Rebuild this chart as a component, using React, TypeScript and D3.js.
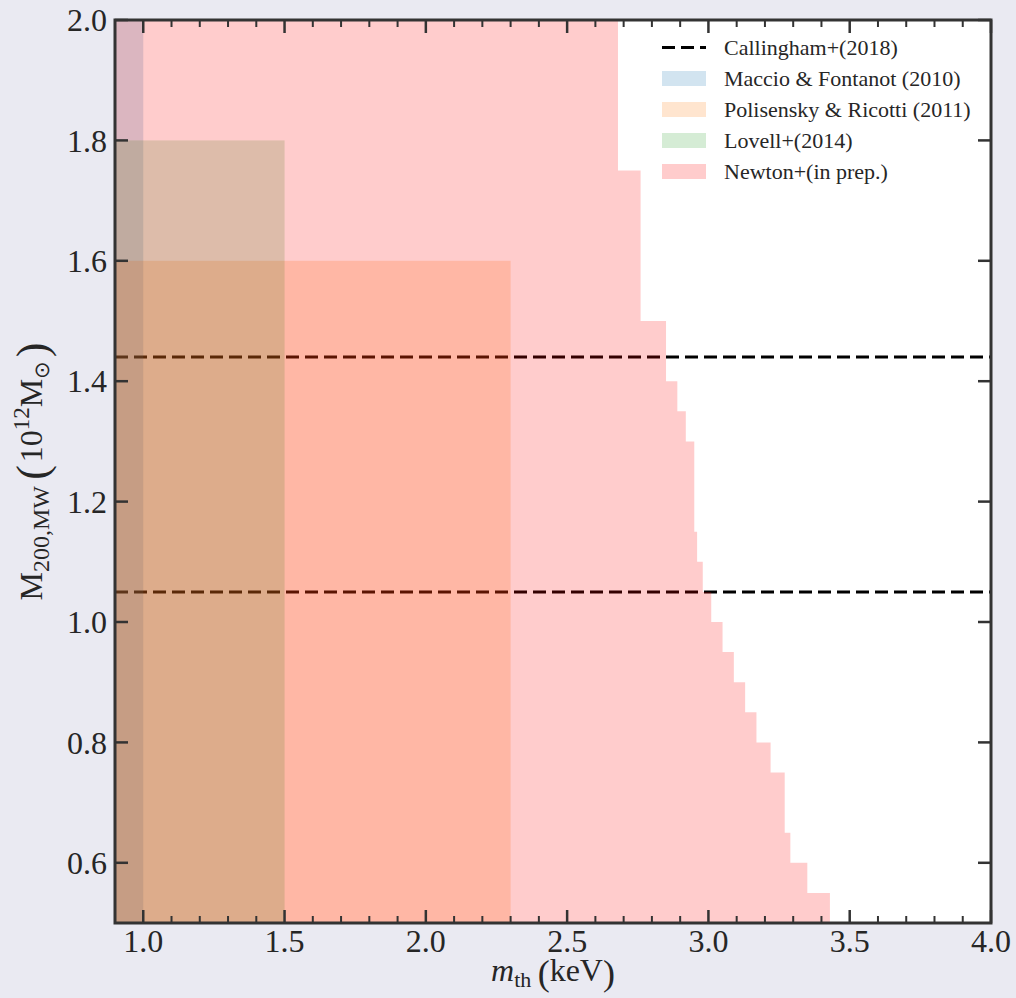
import React, { useEffect, useRef } from 'react';
import * as d3 from 'd3';

const width = 1016;
const height = 998;

const xMajorTicks = [1.0, 1.5, 2.0, 2.5, 3.0, 3.5, 4.0];
const xTickLabels = ['1.0', '1.5', '2.0', '2.5', '3.0', '3.5', '4.0'];
const yMajorTicks = [0.6, 0.8, 1.0, 1.2, 1.4, 1.6, 1.8, 2.0];
const yTickLabels = ['0.6', '0.8', '1.0', '1.2', '1.4', '1.6', '1.8', '2.0'];

// Callingham+(2018) MW halo mass range
const callinghamMass = [1.05, 1.44];

// older constraints: excluded below mthMax, for halo masses up to massMax
const regionLabels = ['Maccio & Fontanot (2010)', 'Polisensky & Ricotti (2011)', 'Lovell+(2014)'];
const regionMthMax = [1.0, 2.3, 1.5];
const regionMassMax = [2.0, 1.6, 1.8];
const regionColors = ['#1f77b4', '#ff7f0e', '#2ca02c'];

// Newton+(in prep.) stepped limit, per halo mass bin
const newtonMassEdges = [0.5, 0.55, 0.6, 0.65, 0.75, 0.8, 0.85, 0.9, 0.95, 1.0, 1.05, 1.1, 1.15, 1.3, 1.35, 1.4, 1.5, 1.75, 2.0];
const newtonMth = [3.43, 3.35, 3.29, 3.27, 3.22, 3.17, 3.13, 3.09, 3.05, 3.01, 2.98, 2.96, 2.95, 2.92, 2.89, 2.85, 2.76, 2.68];

const legendLabels = ['Callingham+(2018)', ...regionLabels, 'Newton+(in prep.)'];

const FONT = "'Liberation Serif', 'Times New Roman', serif";
const INK = '#262626';

// append pieces of "math" text, each with its own baseline offset
const mathText = (text, parts) => {
  let cur = 0;
  parts.forEach(p => {
    const off = p.off || 0;
    const t = text.append('tspan')
      .attr('font-size', p.size)
      .attr('dy', off - cur)
      .text(p.t);
    if (p.italic) t.attr('font-style', 'italic');
    cur = off;
  });
};

const App = () => {
  const svgRef = useRef(null);

  useEffect(() => {
    const svg = d3.select(svgRef.current);
    svg.selectAll('*').remove();

    const margin = { top: 20, right: 25, bottom: 75, left: 115 };
    const x = d3.scaleLinear().domain([0.9, 4.0]).range([margin.left, width - margin.right]);
    const y = d3.scaleLinear().domain([0.5, 2.0]).range([height - margin.bottom, margin.top]);
    const [x0, x1] = x.range();
    const [y0, y1] = y.range();

    svg.append('rect').attr('width', width).attr('height', height).attr('fill', '#eaeaf2');
    svg.append('rect')
      .attr('x', x0).attr('y', y1)
      .attr('width', x1 - x0).attr('height', y0 - y1)
      .attr('fill', '#ffffff');

    svg.append('clipPath').attr('id', 'plot-clip')
      .append('rect')
      .attr('x', x0).attr('y', y1)
      .attr('width', x1 - x0).attr('height', y0 - y1);

    const plot = svg.append('g').attr('clip-path', 'url(#plot-clip)');

    // Callingham lines
    callinghamMass.forEach(m => {
      plot.append('line')
        .attr('x1', x0).attr('x2', x1)
        .attr('y1', y(m)).attr('y2', y(m))
        .attr('stroke', '#000')
        .attr('stroke-width', 3)
        .attr('stroke-dasharray', '13,6');
    });

    // older exclusion regions
    regionMthMax.forEach((mth, i) => {
      plot.append('rect')
        .attr('x', x(0.9))
        .attr('y', y(regionMassMax[i]))
        .attr('width', x(mth) - x(0.9))
        .attr('height', y(0.5) - y(regionMassMax[i]))
        .attr('fill', regionColors[i])
        .attr('fill-opacity', 0.2);
    });

    // Newton stepped region
    const pts = [[0.9, newtonMassEdges[0]]];
    newtonMth.forEach((m, i) => {
      pts.push([m, newtonMassEdges[i]]);
      pts.push([m, newtonMassEdges[i + 1]]);
    });
    pts.push([0.9, newtonMassEdges[newtonMassEdges.length - 1]]);
    const line = d3.line().x(d => x(d[0])).y(d => y(d[1]));
    plot.append('path')
      .attr('d', line(pts) + 'Z')
      .attr('fill', '#ff0000')
      .attr('fill-opacity', 0.2);

    // ticks, inward on all four sides
    const axes = svg.append('g').attr('stroke', '#333');
    const xMinor = x.ticks(31).filter(v => !xMajorTicks.some(t => Math.abs(t - v) < 1e-6));
    xMajorTicks.forEach(v => {
      axes.append('line').attr('x1', x(v)).attr('x2', x(v)).attr('y1', y0).attr('y2', y0 - 13).attr('stroke-width', 2.5);
      axes.append('line').attr('x1', x(v)).attr('x2', x(v)).attr('y1', y1).attr('y2', y1 + 13).attr('stroke-width', 2.5);
    });
    xMinor.forEach(v => {
      axes.append('line').attr('x1', x(v)).attr('x2', x(v)).attr('y1', y0).attr('y2', y0 - 7).attr('stroke-width', 2);
      axes.append('line').attr('x1', x(v)).attr('x2', x(v)).attr('y1', y1).attr('y2', y1 + 7).attr('stroke-width', 2);
    });
    yMajorTicks.forEach(v => {
      axes.append('line').attr('x1', x0).attr('x2', x0 + 13).attr('y1', y(v)).attr('y2', y(v)).attr('stroke-width', 2.5);
      axes.append('line').attr('x1', x1).attr('x2', x1 - 13).attr('y1', y(v)).attr('y2', y(v)).attr('stroke-width', 2.5);
    });
    svg.append('rect')
      .attr('x', x0).attr('y', y1)
      .attr('width', x1 - x0).attr('height', y0 - y1)
      .attr('fill', 'none')
      .attr('stroke', '#333')
      .attr('stroke-width', 3);

    // tick labels
    const labels = svg.append('g').attr('font-family', FONT).attr('fill', INK).attr('font-size', 32);
    xMajorTicks.forEach((v, i) => {
      labels.append('text').attr('x', x(v)).attr('y', 952).attr('text-anchor', 'middle').text(xTickLabels[i]);
    });
    yMajorTicks.forEach((v, i) => {
      labels.append('text').attr('x', 107).attr('y', y(v)).attr('dy', '0.35em').attr('text-anchor', 'end').text(yTickLabels[i]);
    });

    // axis labels
    const xl = svg.append('text')
      .attr('x', (x0 + x1) / 2).attr('y', 981)
      .attr('text-anchor', 'middle')
      .attr('font-family', FONT).attr('fill', INK);
    mathText(xl, [
      { t: 'm', size: 32, italic: true },
      { t: 'th', size: 22, off: 6 },
      { t: '\u2009', size: 32 },
      { t: '(', size: 36, off: 4 },
      { t: 'keV', size: 32 },
      { t: ')', size: 36, off: 4 },
    ]);

    const yl = svg.append('text')
      .attr('transform', `translate(42, ${(y0 + y1) / 2}) rotate(-90)`)
      .attr('text-anchor', 'middle')
      .attr('font-family', FONT).attr('fill', INK);
    mathText(yl, [
      { t: 'M', size: 32 },
      { t: '200,MW', size: 24, off: 7 },
      { t: '\u2009', size: 32 },
      { t: '(', size: 44, off: 5 },
      { t: '\u200a10', size: 32 },
      { t: '12', size: 23, off: -13 },
      { t: 'M', size: 32 },
      { t: '\u2299', size: 21, off: 7 },
      { t: '\u200a)', size: 44, off: 5 },
    ]);

    // legend
    const legend = svg.append('g').attr('font-family', FONT).attr('font-size', 22).attr('fill', INK);
    const legendColors = [null, ...regionColors, '#ff0000'];
    legendLabels.forEach((lab, i) => {
      const base = 55 + i * 31;
      if (i === 0) {
        legend.append('line')
          .attr('x1', 662).attr('x2', 706)
          .attr('y1', base - 7.5).attr('y2', base - 7.5)
          .attr('stroke', '#000').attr('stroke-width', 3)
          .attr('stroke-dasharray', '13,6');
      } else {
        legend.append('rect')
          .attr('x', 662).attr('y', base - 15)
          .attr('width', 44).attr('height', 15)
          .attr('fill', legendColors[i]).attr('fill-opacity', 0.2);
      }
      legend.append('text').attr('x', 724).attr('y', base).text(lab);
    });
  }, []);

  return (
    <svg
      ref={svgRef}
      width={width}
      height={height}
      style={{ position: 'absolute', left: 0, top: 0, display: 'block' }}
    />
  );
};

export default App;
